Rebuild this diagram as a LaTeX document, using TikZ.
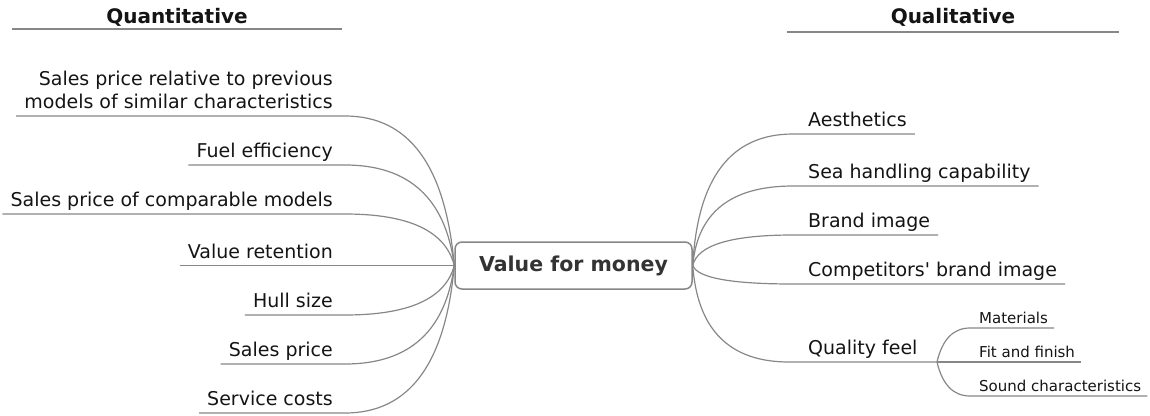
\documentclass[tikz,border=0pt]{standalone}
\usepackage{fontspec}
\setmainfont{DejaVu Sans}
\usetikzlibrary{calc}
\definecolor{linkgray}{HTML}{878787}
\definecolor{ink}{HTML}{141414}
\definecolor{rootink}{HTML}{333333}
\begin{document}
\begin{tikzpicture}[x=1pt,y=-1pt,
  link/.style={draw=linkgray, line width=1.2pt},
  % curve that leaves a point and settles into a horizontal line
  branch/.style={to path={let \p1=(\tikztostart),\p2=(\tikztotarget) in
      .. controls ({\x1+0.667*(#1)},{\y1+0.667*(\y2-\y1)})
         and ({\x2+0.667*(\x1+(#1)-\x2)},\y2) .. (\tikztotarget)}},
  item/.style={font=\fontsize{19}{23}\selectfont, text=ink, inner xsep=8pt, inner ysep=0pt, text depth=0pt},
  subitem/.style={font=\fontsize{15}{18}\selectfont, text=ink, inner xsep=6pt, inner ysep=0pt, text depth=0pt},
  header/.style={font=\bfseries\fontsize{20}{24}\selectfont, text=ink, inner sep=0pt, anchor=base},
  rootbox/.style={draw=linkgray, line width=1.5pt, rounded corners=7pt, fill=white,
      minimum width=237pt, minimum height=47pt, inner sep=0pt,
      font=\bfseries\fontsize{20.5}{24}\selectfont, text=rootink}
]
\useasboundingbox (0,0) rectangle (1150,415);

% column headers
\node[header] (hq) at (177,23) {Quantitative};
\coordinate (hqa) at (12,29);
\coordinate (hqb) at (342,29);
\draw[link] (hqa) -- (hqb);
\node[header] (hl) at (953,23) {Qualitative};
\coordinate (hla) at (787,32);
\coordinate (hlb) at (1119,32);
\draw[link] (hla) -- (hlb);

% central topic
\node[rootbox] (root) at (573.5,265.5) {Value for money};

% quantitative factors (left)
\node[item, anchor=south east, align=right] (q1) at (341,109) {Sales price relative to previous\\models of similar characteristics};
\node[item, anchor=south east] (q2) at (341,158) {Fuel efficiency};
\node[item, anchor=south east] (q3) at (341,207) {Sales price of comparable models};
\node[item, anchor=south east] (q4) at (341,258.5) {Value retention};
\node[item, anchor=south east] (q5) at (341,308) {Hull size};
\node[item, anchor=south east] (q6) at (341,357) {Sales price};
\node[item, anchor=south east] (q7) at (341,406) {Service costs};
\coordinate (q1e) at (345,116);
\coordinate (q2e) at (345,165);
\coordinate (q3e) at (345,214);
\coordinate (q4e) at (345,265.5);
\coordinate (q5e) at (345,315);
\coordinate (q6e) at (345,364);
\coordinate (q7e) at (345,413);
\foreach \k in {q1,q2,q3,q4,q5,q6,q7}
  \draw[link] (root.west) to[branch=-13pt] (\k e) -- (\k.west |- \k e);

% qualitative factors (right)
\node[item, anchor=south west] (r1) at (800,127) {Aesthetics};
\node[item, anchor=south west] (r2) at (800,179) {Sea handling capability};
\node[item, anchor=south west] (r3) at (800,228) {Brand image};
\node[item, anchor=south west] (r4) at (800,277) {Competitors\textquotesingle\ brand image};
\node[item, anchor=south west] (r5) at (800,355) {Quality feel};
\coordinate (r1e) at (793,134);
\coordinate (r2e) at (793,186);
\coordinate (r3e) at (793,235);
\coordinate (r4e) at (793,284);
\coordinate (r5e) at (789,362);
\foreach \k in {r1,r2,r3,r4}
  \draw[link] (root.east) to[branch=7pt] (\k e) -- (\k.east |- \k e);
\coordinate (fork) at (937,362);
\draw[link] (root.east) to[branch=7pt] (r5e) -- (fork);

% details of quality feel
\node[subitem, anchor=south west] (s1) at (973,323.5) {Materials};
\node[subitem, anchor=south west] (s2) at (973,357.5) {Fit and finish};
\node[subitem, anchor=south west] (s3) at (973,391.5) {Sound characteristics};
\coordinate (s1e) at (970,328);
\coordinate (s3e) at (970,396);
\draw[link] (fork) to[branch=8pt] (s1e) -- (s1.east |- s1e);
\draw[link] (fork) -- (s2.east |- fork);
\draw[link] (fork) to[branch=8pt] (s3e) -- (s3.east |- s3e);
\end{tikzpicture}
\end{document}
